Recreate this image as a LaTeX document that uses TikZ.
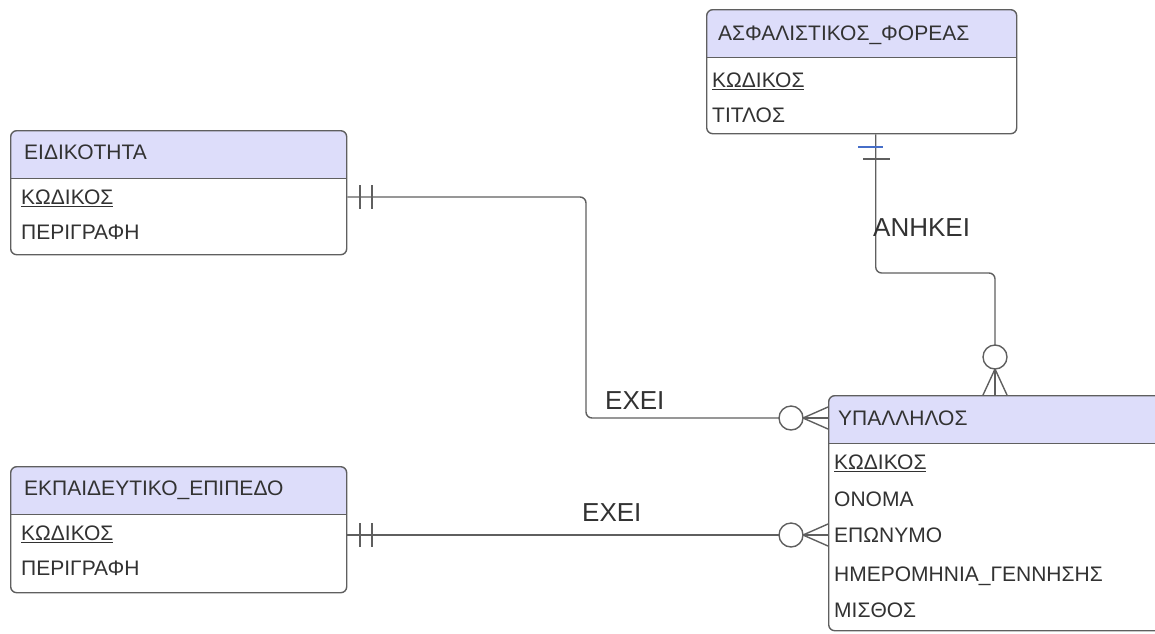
\documentclass[tikz,border=0pt]{standalone}
\usepackage{fontspec}
\setmainfont{Liberation Sans}
\usetikzlibrary{positioning}

\definecolor{headblue}{RGB}{221,221,250}
\definecolor{lineg}{RGB}{95,95,95}
\definecolor{textg}{RGB}{50,50,50}
\definecolor{selblue}{RGB}{70,110,200}

\tikzset{
  entity/.style={draw=lineg, line width=1.4pt, rounded corners=6pt, fill=white,
    anchor=north west, inner sep=0pt,
    path picture={
      \fill[headblue, sharp corners] (path picture bounding box.north west)
        rectangle ([yshift=-48pt]path picture bounding box.north east);
      \draw[lineg, line width=1.4pt, sharp corners] ([yshift=-48pt]path picture bounding box.north west)
        -- ([yshift=-48pt]path picture bounding box.north east);}},
  attr/.style={anchor=west, inner sep=0pt, text=textg, text height=15pt, text depth=0pt,
    font=\fontsize{21}{25}\selectfont},
  relname/.style={anchor=west, inner sep=0pt, text=textg, text height=19pt, text depth=0pt,
    font=\fontsize{26}{30}\selectfont},
  rel/.style={draw=lineg, line width=1.4pt},
}

\begin{document}
\begin{tikzpicture}[x=1pt, y=-1pt]
    \useasboundingbox (0,0) rectangle (1155,633);

    % entities
    \node[entity, minimum width=310pt, minimum height=124pt] (foreas) at (706,9) {};
    \node[attr] (foreasTitle) at (718,33) {ΑΣΦΑΛΙΣΤΙΚΟΣ\_ΦΟΡΕΑΣ};
    \node[attr] (foreasKod) at (712,80) {\underline{ΚΩΔΙΚΟΣ}};
    \node[attr] (foreasTit) at (712,115) {ΤΙΤΛΟΣ};

    \node[entity, minimum width=336pt, minimum height=124pt] (eidikotita) at (10,130) {};
    \node[attr] (eidTitle) at (24,152) {ΕΙΔΙΚΟΤΗΤΑ};
    \node[attr] (eidKod) at (21,197) {\underline{ΚΩΔΙΚΟΣ}};
    \node[attr] (eidPer) at (21,232) {ΠΕΡΙΓΡΑΦΗ};

    \node[entity, minimum width=336pt, minimum height=126pt] (ekpaideytiko) at (10,466) {};
    \node[attr] (ekpTitle) at (24,488) {ΕΚΠΑΙΔΕΥΤΙΚΟ\_ΕΠΙΠΕΔΟ};
    \node[attr] (ekpKod) at (21,533) {\underline{ΚΩΔΙΚΟΣ}};
    \node[attr] (ekpPer) at (21,568) {ΠΕΡΙΓΡΑΦΗ};

    \node[entity, minimum width=345pt, minimum height=235pt] (ypallilos) at (828,395) {};
    \node[attr] (ypTitle) at (838,418) {ΥΠΑΛΛΗΛΟΣ};
    \node[attr] (ypKod) at (834,462) {\underline{ΚΩΔΙΚΟΣ}};
    \node[attr] (ypOnoma) at (834,499) {ΟΝΟΜΑ};
    \node[attr] (ypEpon) at (834,535) {ΕΠΩΝΥΜΟ};
    \node[attr] (ypHmer) at (834,574) {ΗΜΕΡΟΜΗΝΙΑ\_ΓΕΝΝΗΣΗΣ};
    \node[attr] (ypMisth) at (834,610) {ΜΙΣΘΟΣ};

    % relationships
    \coordinate (eidBend) at (586,418);
    \draw[rel, rounded corners=6pt] (eidikotita.east |- eidKod) -| (eidBend) -- (ypallilos.west |- ypTitle);
    \draw[rel] (ekpaideytiko.east |- ypEpon) -- (ypallilos.west |- ypEpon);
    \coordinate (foreasBend) at (995,273);
    \draw[rel, rounded corners=6pt] ([xshift=14pt]foreas.south) |- (foreasBend) -- (ypallilos.north -| foreasBend);

    \node[relname] (exei1) at (605,400) {ΕΧΕΙ};
    \node[relname] (exei2) at (582,512) {ΕΧΕΙ};
    \node[relname] (anikei) at (873,227) {ΑΝΗΚΕΙ};

    % one ends
    \draw[rel] (360,185) -- (360,209);
    \draw[rel] (372,185) -- (372,209);
    \draw[rel] (360,523) -- (360,547);
    \draw[rel] (372,523) -- (372,547);
    \draw[selblue, line width=1.4pt] (858,147) -- (883,147);
    \draw[rel] (863,159) -- (890,159);

    % many ends
    \draw[rel, fill=white] (791,418) circle (12pt);
    \foreach \dy in {-11,0,11} \draw[rel] (803,418) -- (828,418+\dy);
    \draw[rel, fill=white] (791,535) circle (12pt);
    \foreach \dy in {-11,0,11} \draw[rel] (803,535) -- (828,535+\dy);
    \draw[rel, fill=white] (995,357) circle (12pt);
    \foreach \dx in {-12,0,12} \draw[rel] (995,369) -- (995+\dx,395);
\end{tikzpicture}
\end{document}
